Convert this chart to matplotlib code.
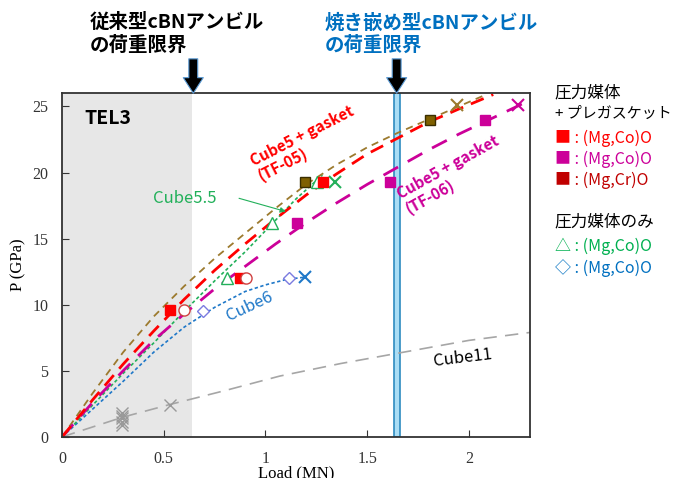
import matplotlib
matplotlib.use('Agg')
import matplotlib.pyplot as plt

plt.rcParams['font.family'] = ['Noto Sans CJK JP', 'DejaVu Sans']

RED = '#FF0000'
MAGENTA = '#CC0099'
OLIVE = '#7F6000'
DARKRED = '#C00000'
GREEN = '#22B05A'
BLUE = '#1F78C8'
GRAY = '#A6A6A6'
LBLUE = '#0070C0'
SERIF = 'Liberation Serif'

# fitted curves (Load MN, P GPa)
tf05_x = [0, 0.15, 0.3, 0.45, 0.6, 0.75, 0.9, 1.05, 1.2, 1.35, 1.5, 1.65, 1.8, 1.95, 2.12]
tf05_p = [0, 2.8, 5.5, 8.0, 10.4, 12.6, 14.6, 16.5, 18.3, 19.9, 21.4, 22.6, 23.8, 24.8, 25.9]
crO_x = [0, 0.15, 0.3, 0.45, 0.6, 0.75, 0.9, 1.05, 1.2, 1.35, 1.5, 1.65, 1.8, 1.95, 2.07]
crO_p = [0, 3.3, 6.4, 9.1, 11.4, 13.5, 15.4, 17.3, 19.1, 20.6, 21.9, 23.0, 24.0, 25.0, 25.8]
tf06_x = [0, 0.15, 0.3, 0.45, 0.6, 0.75, 0.9, 1.05, 1.2, 1.35, 1.5, 1.65, 1.8, 1.95, 2.1, 2.25, 2.3]
tf06_p = [0, 2.6, 5.0, 7.3, 9.3, 11.2, 12.9, 14.6, 16.2, 17.7, 19.1, 20.4, 21.7, 22.9, 24.0, 25.1, 25.5]
c55_x = [0, 0.15, 0.3, 0.45, 0.6, 0.75, 0.9, 1.05, 1.15, 1.28]
c55_p = [0, 2.4, 4.8, 7.1, 9.5, 11.8, 14.0, 16.4, 18.0, 19.8]
c6_x = [0, 0.15, 0.3, 0.45, 0.6, 0.75, 0.9, 1.0, 1.1, 1.2]
c6_p = [0, 2.1, 4.2, 6.4, 8.3, 9.8, 11.0, 11.5, 11.9, 12.1]
c11_x = [0, 0.3, 0.53, 0.8, 1.07, 1.37, 1.64, 2.0, 2.3]
c11_p = [0, 1.5, 2.45, 3.5, 4.6, 5.55, 6.3, 7.3, 7.9]

# measured points
red_sq_x = [0.53, 0.875, 1.285]
red_sq_p = [9.6, 12.0, 19.3]
red_circ_x = [0.60, 0.905]
red_circ_p = [9.6, 12.0]
mag_sq_x = [1.153, 1.61, 2.08]
mag_sq_p = [16.2, 19.3, 24.0]
mag_x_x = [2.24]
mag_x_p = [25.1]
ol_sq_x = [1.196, 1.81]
ol_sq_p = [19.3, 24.0]
ol_x_x = [1.94]
ol_x_p = [25.1]
grn_tri_x = [0.81, 1.03, 1.254]
grn_tri_p = [12.0, 16.2, 19.3]
grn_x_x = [1.34]
grn_x_p = [19.25]
dia_x = [0.693, 1.114]
dia_p = [9.55, 12.0]
blu_x_x = [1.195]
blu_x_p = [12.07]
gray_x_x = [0.295, 0.295, 0.295, 0.295, 0.295, 0.53]
gray_x_p = [0.9, 1.15, 1.4, 1.6, 1.8, 2.45]

conv_limit = 0.64
shrink_limit = (1.63, 1.66)

fig = plt.figure(figsize=(6.75, 4.78), dpi=100)
fig.patch.set_facecolor('#FFFFFF')
ax = fig.add_axes([0.092, 0.086, 0.693, 0.719])

ax.axvspan(0, conv_limit, facecolor='#E7E7E7', edgecolor='none', zorder=0)
ax.axvspan(*shrink_limit, facecolor='#A9DDF5', edgecolor='#2E8BC0', lw=1.2, zorder=1)

ax.plot(c11_x, c11_p, color=GRAY, lw=1.2, dashes=(8, 5), zorder=2)
ax.plot(c6_x, c6_p, color=BLUE, lw=1.2, dashes=(2, 1.5), zorder=2)
ax.plot(c55_x, c55_p, color=GREEN, lw=1.2, dashes=(2, 1.5), zorder=2)
ax.plot(crO_x, crO_p, color='#9C7A2E', lw=1.3, dashes=(4, 3), zorder=2)
ax.plot(tf06_x, tf06_p, color=MAGENTA, lw=2.0, dashes=(6, 4), zorder=2)
ax.plot(tf05_x, tf05_p, color=RED, lw=2.0, dashes=(5, 3), zorder=2)

ax.plot(gray_x_x, gray_x_p, 'x', color='#999999', ms=9, mew=1, zorder=3)
ax.plot(dia_x, dia_p, 'D', mfc='white', mec='#7B7BE0', ms=6.5, mew=1, zorder=3)
ax.plot(blu_x_x, blu_x_p, 'x', color=BLUE, ms=8, mew=1.5, zorder=3)
ax.plot(grn_tri_x, grn_tri_p, '^', mfc='white', mec=GREEN, ms=8, mew=1, zorder=3)
ax.plot(grn_x_x, grn_x_p, 'x', color=GREEN, ms=8, mew=1.5, zorder=3)
ax.plot(red_sq_x, red_sq_p, 's', color=RED, ms=7.5, zorder=4)
ax.plot(red_circ_x, red_circ_p, 'o', mfc='white', mec='#D04040', ms=8, mew=1, zorder=4)
ax.plot(mag_sq_x, mag_sq_p, 's', color=MAGENTA, ms=7.5, zorder=4)
ax.plot(mag_x_x, mag_x_p, 'x', color=MAGENTA, ms=8, mew=1.5, zorder=4)
ax.plot(ol_sq_x, ol_sq_p, 's', mfc=OLIVE, mec='#3A2E00', ms=7.5, zorder=4)
ax.plot(ol_x_x, ol_x_p, 'x', color='#9C7A2E', ms=8, mew=1.5, zorder=4)

ax.text(0.11, 24.1, 'TEL3', fontsize=14, fontweight='bold', color='black', va='center')
ax.text(1.2, 22.2, 'Cube5 + gasket\n(TF-05)', fontsize=11, fontweight='bold', color=RED,
        rotation=27, ha='center', va='center', multialignment='left', linespacing=1.1)
ax.text(1.92, 19.8, 'Cube5 + gasket\n(TF-06)', fontsize=11, fontweight='bold', color=MAGENTA,
        rotation=29, ha='center', va='center', multialignment='left', linespacing=1.1)
ax.text(0.605, 18.05, 'Cube5.5', color=GREEN, fontsize=12, ha='center', va='center')
ax.annotate('', xy=(1.10, 17.05), xytext=(0.87, 18.05),
            arrowprops=dict(arrowstyle='-|>', color=GREEN, lw=0.8, shrinkA=0, shrinkB=0,
                            mutation_scale=8))
ax.text(0.92, 9.85, 'Cube6', fontsize=12, color=BLUE, rotation=25, ha='center', va='center')
ax.text(1.97, 6.0, 'Cube11', fontsize=12, color='black', rotation=7, ha='center', va='center')

# load-limit arrows above the plot
for xa in (0.645, 1.645):
    ax.annotate('', xy=(xa, 26.0), xytext=(xa, 28.6), annotation_clip=False,
                arrowprops=dict(arrowstyle='simple,head_length=0.7,head_width=0.9,tail_width=0.4',
                                fc='black', ec='#5B9BD5', lw=0.8, mutation_scale=16,
                                shrinkA=0, shrinkB=0))

ax.set_xlim(0, 2.3)
ax.set_ylim(0, 26)
ax.set_xticks([0, 0.5, 1, 1.5, 2])
ax.set_xticklabels(['0', '0.5', '1', '1.5', '2'])
ax.set_yticks([0, 5, 10, 15, 20, 25])
ax.tick_params(direction='in', length=5, width=0.8, colors='#333333', labelsize=11.5)
ax.tick_params(axis='x', pad=10)
ax.tick_params(axis='y', pad=10)
for lab in ax.get_xticklabels() + ax.get_yticklabels():
    lab.set_family(SERIF)
ax.set_xlabel('Load (MN)', family=SERIF, fontsize=12, labelpad=-1)
ax.set_ylabel('P (GPa)', family=SERIF, fontsize=12, labelpad=4)
for s in ax.spines.values():
    s.set_color('#333333')
    s.set_linewidth(1.3)

fig.text(0.133, 0.929, '従来型cBNアンビル\nの荷重限界', fontsize=14, fontweight='bold',
         color='black', va='center', linespacing=1.2)
fig.text(0.481, 0.929, '焼き嵌め型cBNアンビル\nの荷重限界', fontsize=14, fontweight='bold',
         color=LBLUE, va='center', linespacing=1.2)

# legend panel on the right
lx = 0.822
fig.text(lx, 0.805, '圧力媒体', fontsize=12, va='center')
fig.text(lx, 0.762, '+ プレガスケット', fontsize=10.8, va='center')
fig.text(lx, 0.711, '■ : (Mg,Co)O', fontsize=11.5, color=RED, va='center')
fig.text(lx, 0.667, '■ : (Mg,Co)O', fontsize=11.5, color=MAGENTA, va='center')
fig.text(lx, 0.622, '■ : (Mg,Cr)O', fontsize=11.5, color=DARKRED, va='center')
fig.text(lx, 0.536, '圧力媒体のみ', fontsize=12, va='center')
fig.text(lx, 0.485, '△ : (Mg,Co)O', fontsize=11.5, color='#00B050', va='center')
fig.text(lx, 0.439, '◇ : (Mg,Co)O', fontsize=11.5, color=LBLUE, va='center')

fig.savefig('out.png', dpi=100, facecolor='#FFFFFF')
